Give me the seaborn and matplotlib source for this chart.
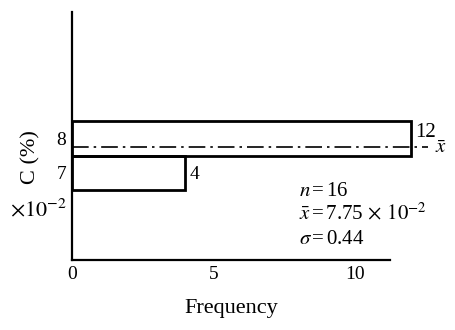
import matplotlib
matplotlib.use("Agg")
import matplotlib.pyplot as plt
import seaborn as sns
import numpy as np

# Data
bin_centers = [7.0, 8.0]
counts = [4, 12]
bin_edges = [6.5, 7.5, 8.5]
mean_c = 7.75
x_ticks = [0, 5, 10]
y_ticks = [7, 8]

sns.set_style("white")
plt.rcParams['font.family'] = ['Liberation Serif', 'DejaVu Serif']
plt.rcParams['mathtext.fontset'] = 'stix'
plt.rcParams['text.color'] = 'black'
plt.rcParams['axes.labelcolor'] = 'black'

fig = plt.figure(figsize=(4.56, 3.30), dpi=100)
ax = fig.add_axes([0.158, 0.212, 0.697, 0.752])

sns.histplot(y=bin_centers, weights=counts, bins=bin_edges, fill=False,
             color='black', edgecolor='black', linewidth=2.0, element='bars', ax=ax)
for p in ax.patches:
    p.set_clip_on(False)
    p.set_edgecolor('black')

ax.set_xlim(0, 11.25)
ax.set_ylim(4.45, 11.7)

ax.plot([0, 12.6], [mean_c, mean_c], color='black', lw=1.2,
        linestyle=(0, (10, 3, 1.5, 3)), clip_on=False)

ax.set_xticks(x_ticks)
ax.set_yticks(y_ticks)
ax.tick_params(axis='both', direction='in', length=4, width=1.2,
               labelsize=14, colors='black', labelcolor='black', pad=4)
for s in ['top', 'right']:
    ax.spines[s].set_visible(False)
for s in ['left', 'bottom']:
    ax.spines[s].set_linewidth(1.6)
    ax.spines[s].set_color('black')

ax.set_xlabel('Frequency', fontsize=16, labelpad=12, color='black')
ax.set_ylabel('')
fig.text(0.068, 0.524, 'C (%)', rotation=90, fontsize=16, ha='center', va='center', color='black')
fig.text(0.085, 0.362, r'$\times10^{-2}$', fontsize=16, ha='center', va='center', color='black')

ax.text(counts[1] + 0.15, 8.18, str(counts[1]), fontsize=15, ha='left', va='center', clip_on=False)
ax.text(counts[0] + 0.15, 6.95, str(counts[0]), fontsize=14, ha='left', va='center')
ax.text(13.05, 7.72, r'$\bar{x}$', fontsize=15, ha='center', va='center', clip_on=False)

ax.text(8.05, 6.45, r'$n\,$=$\,$16', fontsize=15, ha='left', va='center')
ax.text(8.05, 5.8, r'$\bar{x}\,$=$\,$7.75$\,\times\,10^{-2}$', fontsize=15, ha='left', va='center')
ax.text(8.05, 5.05, r'$\sigma\,$=$\,$0.44', fontsize=15, ha='left', va='center')

fig.savefig('out.png', dpi=100)
